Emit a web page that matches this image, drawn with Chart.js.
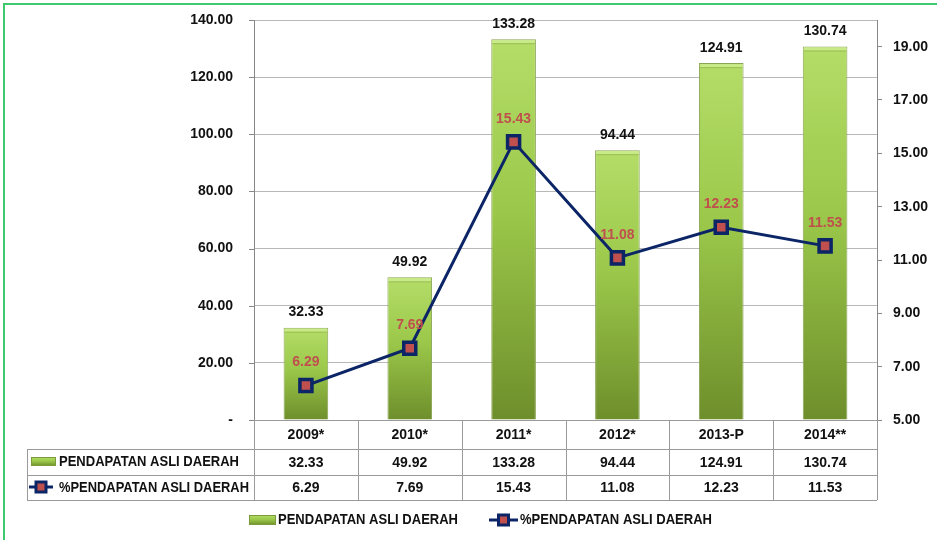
<!DOCTYPE html>
<html>
<head>
<meta charset="utf-8">
<script src="https://cdn.jsdelivr.net/npm/chart.js@4/dist/chart.umd.min.js"></script>
<style>
  html, body { margin: 0; padding: 0; background: #fff; }
  #wrap { width: 937px; height: 540px; position: relative; }
</style>
</head>
<body>
<div id="wrap"><canvas id="myChart" width="937" height="540"></canvas></div>
<script>
// data
var categories = ['2009*', '2010*', '2011*', '2012*', '2013-P', '2014**']
var pad_values = [32.33, 49.92, 133.28, 94.44, 124.91, 130.74]
var pad_percent = [6.29, 7.69, 15.43, 11.08, 12.23, 11.53]
var left_ticks = [0, 20, 40, 60, 80, 100, 120, 140]
var right_ticks = [5, 7, 9, 11, 13, 15, 17, 19]
var bar_label = 'PENDAPATAN ASLI DAERAH'
var line_label = '%PENDAPATAN ASLI DAERAH'

var numFont = 'bold 14px "Liberation Sans", Arial, sans-serif'
var txtFont = 'bold 15px "Liberation Sans Narrow", "Liberation Sans", Arial, sans-serif'
var navy = '#0b2566'
var red = '#c0504d'

function barGradient(ctx, y0, y1) {
    var g = ctx.createLinearGradient(0, y0, 0, y1)
    g.addColorStop(0, '#b4dd68')
    g.addColorStop(0.45, '#9bc84a')
    g.addColorStop(1, '#6e8e2b')
    return g
}

function drawBarIcon(ctx, x, y, w, h) {
    ctx.fillStyle = barGradient(ctx, y, y + h)
    ctx.fillRect(x, y, w, h)
    ctx.strokeStyle = '#7b9a3a'
    ctx.lineWidth = 1
    ctx.strokeRect(x + 0.5, y + 0.5, w - 1, h - 1)
}

function drawLineIcon(ctx, x, y, w) {
    ctx.strokeStyle = navy
    ctx.lineWidth = 3
    ctx.beginPath()
    ctx.moveTo(x, y)
    ctx.lineTo(x + w, y)
    ctx.stroke()
    var cx = x + w / 2
    ctx.fillStyle = red
    ctx.fillRect(cx - 5, y - 5, 10, 10)
    ctx.lineWidth = 3
    ctx.strokeRect(cx - 5, y - 5, 10, 10)
}

var extras = {
    id: 'extras',
    afterDatasetsDraw: function(chart) {
        // small bevel on top of each bar
        var ctx = chart.ctx
        ctx.save()
        chart.getDatasetMeta(1).data.forEach(function(bar) {
            var hw = bar.width / 2
            ctx.fillStyle = 'rgba(210,240,150,0.7)'
            ctx.fillRect(bar.x - hw + 1, bar.y + 1, bar.width - 2, 3)
            ctx.fillStyle = 'rgba(90,120,30,0.3)'
            ctx.fillRect(bar.x - hw + 1, bar.y + 4, bar.width - 2, 1)
        })
        ctx.restore()
    },
    afterDraw: function(chart) {
        var ctx = chart.ctx
        var area = chart.chartArea
        var xs = chart.scales.x
        var ys = chart.scales.y
        var n = categories.length
        var w = (area.right - area.left) / n
        ctx.save()

        // green frame
        ctx.strokeStyle = '#3ec96e'
        ctx.lineWidth = 2
        ctx.beginPath()
        ctx.moveTo(4, 540)
        ctx.lineTo(4, 4)
        ctx.lineTo(937, 4)
        ctx.stroke()

        // left tick marks (short, outside)
        ctx.strokeStyle = '#888'
        ctx.lineWidth = 1
        ctx.beginPath()
        left_ticks.forEach(function(v) {
            var py = Math.round(ys.getPixelForValue(v)) + 0.5
            ctx.moveTo(area.left - 5, py)
            ctx.lineTo(area.left, py)
        })
        ctx.stroke()

        // bar value labels
        ctx.font = numFont
        ctx.textAlign = 'center'
        ctx.textBaseline = 'middle'
        ctx.fillStyle = '#111'
        chart.getDatasetMeta(1).data.forEach(function(bar, i) {
            ctx.fillText(pad_values[i].toFixed(2), bar.x, bar.y - 15)
        })
        // line value labels
        ctx.fillStyle = red
        chart.getDatasetMeta(0).data.forEach(function(pt, i) {
            ctx.fillText(pad_percent[i].toFixed(2), pt.x, pt.y - 23)
        })

        // data table
        var t0 = area.bottom, t1 = 449, t2 = 475, t3 = 500, tl = 27
        ctx.strokeStyle = '#9a9a9a'
        ctx.lineWidth = 1
        ctx.beginPath()
        ctx.moveTo(area.left, t0 + 0.5); ctx.lineTo(area.right, t0 + 0.5)
        ctx.moveTo(tl, t1 + 0.5); ctx.lineTo(area.right, t1 + 0.5)
        ctx.moveTo(tl, t2 + 0.5); ctx.lineTo(area.right, t2 + 0.5)
        ctx.moveTo(tl, t3 + 0.5); ctx.lineTo(area.right, t3 + 0.5)
        ctx.moveTo(tl + 0.5, t1); ctx.lineTo(tl + 0.5, t3)
        for (var i = 0; i <= n; i++) {
            var bx = Math.round(area.left + i * w) + 0.5
            ctx.moveTo(bx, t0); ctx.lineTo(bx, t3)
        }
        ctx.stroke()

        ctx.fillStyle = '#111'
        ctx.font = numFont
        ctx.textAlign = 'center'
        categories.forEach(function(c, i) {
            var cx = xs.getPixelForValue(i)
            ctx.fillText(c, cx, (t0 + t1) / 2 + 1)
            ctx.fillText(pad_values[i].toFixed(2), cx, (t1 + t2) / 2 + 1)
            ctx.fillText(pad_percent[i].toFixed(2), cx, (t2 + t3) / 2 + 1)
        })

        ctx.textAlign = 'left'
        ctx.font = txtFont
        drawBarIcon(ctx, 31, 457, 25, 9)
        ctx.fillStyle = '#111'
        ctx.fillText(bar_label, 59, 462, 180)
        drawLineIcon(ctx, 29, 487, 24)
        ctx.fillStyle = '#111'
        ctx.font = txtFont
        ctx.fillText(line_label, 59, 488, 190)

        // legend
        drawBarIcon(ctx, 249, 515, 27, 10)
        ctx.fillStyle = '#111'
        ctx.font = txtFont
        ctx.fillText(bar_label, 278, 520, 180)
        drawLineIcon(ctx, 489, 520, 29)
        ctx.fillStyle = '#111'
        ctx.font = txtFont
        ctx.fillText(line_label, 520, 520, 192)

        ctx.restore()
    }
}

var myChart = document.getElementById('myChart').getContext('2d')
var chart = new Chart(myChart, {
    type: 'bar',
    data: {
        labels: categories,
        datasets: [
            {
                type: 'line',
                label: line_label,
                data: pad_percent,
                yAxisID: 'y1',
                borderColor: navy,
                borderWidth: 3,
                pointStyle: 'rect',
                pointRadius: 8.5,
                pointBorderWidth: 3.5,
                pointBackgroundColor: red,
                pointBorderColor: navy,
                tension: 0,
                order: 0
            },
            {
                type: 'bar',
                label: bar_label,
                data: pad_values,
                yAxisID: 'y',
                backgroundColor: function(c) {
                    var ch = c.chart
                    if (!ch.chartArea || c.dataIndex === undefined) return '#9bc84a'
                    var top = ch.scales.y.getPixelForValue(pad_values[c.dataIndex])
                    return barGradient(ch.ctx, top, ch.chartArea.bottom)
                },
                borderColor: '#8aa455',
                borderWidth: 1,
                categoryPercentage: 1,
                barPercentage: 0.43,
                order: 1
            }
        ]
    },
    options: {
        responsive: false,
        animation: false,
        layout: { padding: { top: 20, bottom: 120, left: 0, right: 0 } },
        plugins: { legend: { display: false }, tooltip: { enabled: false } },
        scales: {
            x: { display: false, offset: true },
            y: {
                position: 'left',
                min: 0,
                max: 140,
                afterBuildTicks: function(s) { s.ticks = left_ticks.map(function(v) { return { value: v } }) },
                afterFit: function(s) { s.width = 254 },
                grid: { color: '#b8b8b8', tickLength: 21, tickColor: 'rgba(0,0,0,0)' },
                border: { color: '#888' },
                ticks: {
                    padding: 0,
                    color: '#111',
                    font: { family: '"Liberation Sans", Arial, sans-serif', size: 14, weight: 'bold' },
                    callback: function(v) { return v === 0 ? '-' : v.toFixed(2) }
                }
            },
            y1: {
                position: 'right',
                min: 5,
                max: 20,
                afterBuildTicks: function(s) { s.ticks = right_ticks.map(function(v) { return { value: v } }) },
                afterFit: function(s) { s.width = 60 },
                grid: { drawOnChartArea: false, tickLength: 5, color: '#888' },
                border: { color: '#888' },
                ticks: {
                    padding: 11,
                    color: '#111',
                    font: { family: '"Liberation Sans", Arial, sans-serif', size: 14, weight: 'bold' },
                    callback: function(v) { return v.toFixed(2) }
                }
            }
        }
    },
    plugins: [extras]
})
</script>
</body>
</html>
